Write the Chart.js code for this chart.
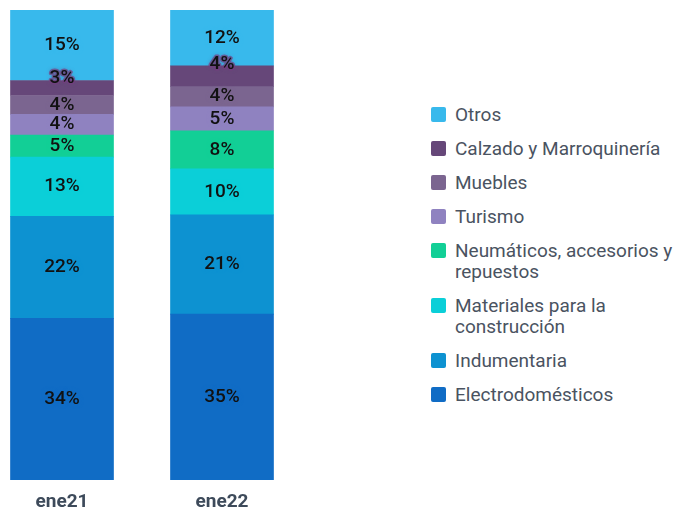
<!DOCTYPE html>
<html>
<head>
<meta charset="utf-8">
<script src="https://cdn.jsdelivr.net/npm/chart.js@4.4.0/dist/chart.umd.min.js"></script>
<style>
  body { margin: 0; background: #fff; width: 673px; height: 509px; overflow: hidden; position: relative; font-family: Roboto, sans-serif; }
  #wrap { position: absolute; left: -18px; top: 0; width: 320px; height: 509px; }
  #legend { position: absolute; left: 431px; top: 104px; }
  .item { display: flex; align-items: flex-start; margin-bottom: 13px; }
  .box { width: 15px; height: 15px; border-radius: 2px; margin-top: 3px; margin-right: 9px; flex: none; }
  .txt { width: 228px; font-size: 19px; line-height: 21px; color: #4a5361; }
</style>
</head>
<body>
<div id="wrap"><canvas id="grafico"></canvas></div>
<div id="legend"></div>
<script>
'use strict'

const periodos = ['ene21', 'ene22'];

const rubros = [
  'Electrodomésticos',
  'Indumentaria',
  'Materiales para la construcción',
  'Neumáticos, accesorios y repuestos',
  'Turismo',
  'Muebles',
  'Calzado y Marroquinería',
  'Otros'
];

// porcentaje de cada rubro, [ene21, ene22]
const electrodomesticos = [34.4, 35.3];
const indumentaria = [21.7, 21.1];
const materiales = [12.6, 9.8];
const neumaticos = [4.7, 8.1];
const turismo = [4.4, 5.1];
const muebles = [4.0, 4.3];
const calzado = [3.2, 4.4];
const otros = [15.0, 11.9];

const valores = [electrodomesticos, indumentaria, materiales, neumaticos, turismo, muebles, calzado, otros];

const colores = ['#106cc5', '#0d92d1', '#0bcfd8', '#12cf96', '#8f82c0', '#7b6590', '#664779', '#38b9ec'];

// etiquetas con % dentro de cada tramo
const etiquetas = {
  id: 'etiquetas',
  afterDatasetsDraw(chart) {
    const ctx = chart.ctx;
    ctx.save();
    ctx.font = '500 19px Roboto';
    ctx.textAlign = 'center';
    ctx.textBaseline = 'middle';
    chart.data.datasets.forEach((ds, i) => {
      const meta = chart.getDatasetMeta(i);
      meta.data.forEach((bar, j) => {
        const txt = Math.round(ds.data[j]) + '%';
        let y = (bar.y + bar.base) / 2;
        if (ds.anclaArriba) {
          y = bar.y - 2;
          ctx.strokeStyle = 'rgba(120,60,130,0.7)';
          ctx.lineWidth = 3;
          ctx.lineJoin = 'round';
          ctx.strokeText(txt, bar.x, y);
        }
        ctx.shadowColor = ds.backgroundColor;
        ctx.shadowBlur = 4;
        ctx.fillStyle = '#111';
        ctx.fillText(txt, bar.x, y);
        ctx.shadowBlur = 0;
      });
    });
    ctx.restore();
  }
};

const data = {
  labels: periodos,
  datasets: rubros.map((r, i) => ({
    label: r,
    data: valores[i],
    backgroundColor: colores[i],
    borderWidth: 0,
    barThickness: 103,
    anclaArriba: r === 'Calzado y Marroquinería'
  }))
};

const config = {
  type: 'bar',
  data,
  options: {
    responsive: true,
    maintainAspectRatio: false,
    animation: false,
    layout: { padding: { top: 10, bottom: 0, left: 0, right: 0 } },
    plugins: {
      legend: { display: false },
      tooltip: { enabled: false }
    },
    scales: {
      x: {
        stacked: true,
        grid: { display: false, drawTicks: false },
        border: { display: false },
        ticks: { color: '#3d4a5a', font: { family: 'Roboto', size: 19, weight: 'bold' }, padding: 11 },
        afterFit: s => { s.height = 29; }
      },
      y: {
        stacked: true,
        display: false,
        min: 0,
        max: 100
      }
    }
  },
  plugins: [etiquetas]
};

const grafico = new Chart(document.querySelector('#grafico'), config);

// leyenda en orden inverso (Otros arriba)
const leyenda = document.querySelector('#legend');
grafico.data.datasets.slice().reverse().forEach(ds => {
  const item = document.createElement('div');
  item.className = 'item';
  const box = document.createElement('div');
  box.className = 'box';
  box.style.background = ds.backgroundColor;
  const txt = document.createElement('div');
  txt.className = 'txt';
  txt.textContent = ds.label;
  item.appendChild(box);
  item.appendChild(txt);
  leyenda.appendChild(item);
});
</script>
</body>
</html>
